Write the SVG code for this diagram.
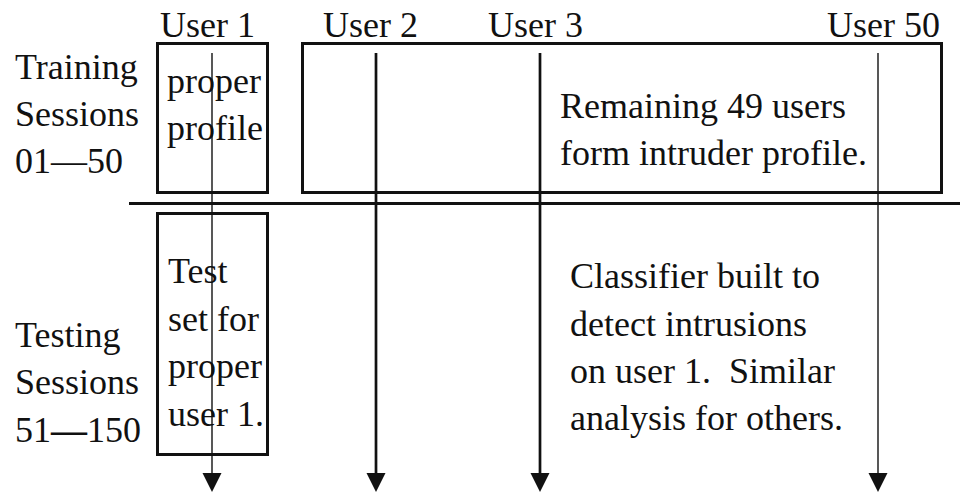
<svg xmlns="http://www.w3.org/2000/svg" width="960" height="493" viewBox="0 0 960 493">
  <style>
    text { font-family: "Liberation Serif", "Times New Roman", serif; font-size: 36px; fill: #111; white-space: pre; }
    .box { fill: none; stroke: #111; stroke-width: 3; }
    .flow { stroke: #111; fill: none; marker-end: url(#head); }
    .thin { stroke-width: 1.4; }
    .thick { stroke-width: 2.7; }
    .divider { stroke: #111; stroke-width: 3; }
  </style>
  <defs>
    <marker id="head" markerUnits="userSpaceOnUse" markerWidth="20" markerHeight="20" viewBox="0 -10 20 20" refX="3" refY="0" orient="auto">
      <path d="M0,-9.5 L19,0 L0,9.5 Z" fill="#111"/>
    </marker>
  </defs>
  <rect width="960" height="493" fill="#fff"/>

  <!-- column headings -->
  <g id="headings">
    <text x="160" y="37">User 1</text>
    <text x="323" y="37">User 2</text>
    <text x="488" y="37">User 3</text>
    <text x="827" y="37">User 50</text>
  </g>

  <!-- row labels -->
  <g id="training-label">
    <text x="15" y="79">Training</text>
    <text x="15" y="126">Sessions</text>
    <text x="15" y="173">01—50</text>
  </g>
  <g id="testing-label">
    <text x="15" y="347">Testing</text>
    <text x="15" y="394">Sessions</text>
    <text x="15" y="442">51<tspan font-weight="bold">—</tspan>150</text>
  </g>

  <!-- separator between training and testing sessions -->
  <line class="divider" x1="129" y1="203.5" x2="960" y2="203.5"/>

  <g id="proper-profile">
    <rect class="box" x="157.5" y="43.5" width="110" height="149"/>
    <text x="167" y="93">proper</text>
    <text x="167" y="140">profile</text>
  </g>

  <g id="intruder-profile">
    <rect class="box" x="302.5" y="43.5" width="639" height="149"/>
    <text x="560" y="118">Remaining 49 users</text>
    <text x="560" y="165">form intruder profile.</text>
  </g>

  <g id="test-set">
    <rect class="box" x="157.5" y="213.5" width="110" height="241"/>
    <text x="168" y="283">Test</text>
    <text x="168" y="331">set for</text>
    <text x="168" y="378">proper</text>
    <text x="168" y="426">user 1.</text>
  </g>

  <g id="classifier-note">
    <text x="570" y="288">Classifier built to</text>
    <text x="570" y="336">detect intrusions</text>
    <text x="570" y="383" xml:space="preserve">on user 1.  Similar</text>
    <text x="570" y="430">analysis for others.</text>
  </g>

  <!-- per-user session timelines -->
  <g id="connectors">
    <line class="flow thin" x1="212" y1="53" x2="212" y2="476"/>
    <line class="flow thick" x1="376" y1="53" x2="376" y2="476"/>
    <line class="flow thick" x1="540" y1="53" x2="540" y2="476"/>
    <line class="flow thin" x1="878" y1="53" x2="878" y2="476"/>
  </g>
</svg>
